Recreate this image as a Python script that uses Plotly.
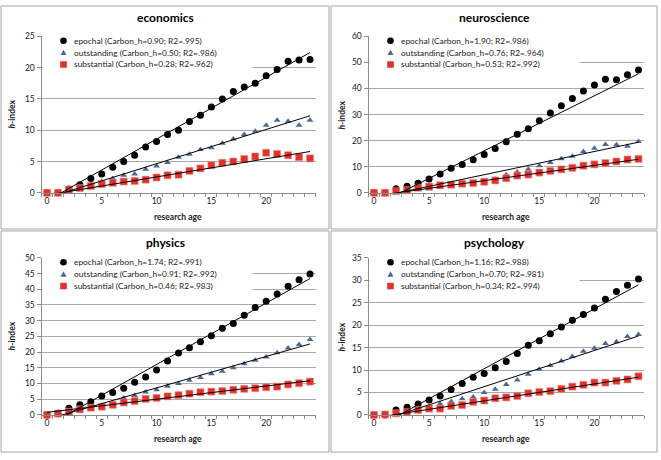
import plotly.graph_objects as go

W, H = 661, 460

# ---------------- data ----------------
AGE = list(range(25))
PANEL_NAMES = ["economics", "neuroscience", "physics", "psychology"]
SERIES_NAMES = ["epochal", "outstanding", "substantial"]

ECON_EPOCHAL = [0, 0, 0.6, 1.3, 2.3, 3.0, 4.1, 5.0, 6.0, 7.3, 8.2, 9.3, 10.0, 11.4, 12.4, 13.7, 15.0, 16.2, 16.9, 17.5, 18.7, 19.7, 21.0, 21.2, 21.3]
ECON_OUTSTANDING = [0, 0, 0.4, 0.9, 1.3, 1.8, 2.3, 2.8, 3.0, 3.75, 4.3, 4.85, 5.7, 6.15, 6.9, 7.2, 7.9, 8.6, 9.3, 9.85, 10.8, 11.6, 11.45, 10.8, 11.6]
ECON_SUBSTANTIAL = [0, 0, 0.5, 0.75, 1.1, 1.4, 1.6, 1.8, 1.9, 2.1, 2.45, 2.8, 2.9, 3.5, 3.9, 4.4, 4.8, 5.0, 5.4, 5.8, 6.4, 6.2, 6.0, 5.7, 5.5]

NEURO_EPOCHAL = [0, 0, 1.6, 2.5, 3.7, 5.3, 7.2, 9.4, 10.9, 12.7, 14.7, 17.0, 19.6, 22.5, 24.6, 27.6, 30.6, 33.4, 36.2, 39.0, 41.3, 43.5, 43.3, 45.3, 47.1]
NEURO_OUTSTANDING = [0, 0, 0.5, 0.8, 1.2, 1.5, 2.0, 2.4, 3.2, 3.8, 4.5, 5.2, 6.9, 8.0, 9.0, 10.4, 11.6, 13.1, 14.0, 15.8, 17.1, 18.5, 18.4, 17.9, 19.7]
NEURO_SUBSTANTIAL = [0, 0, 0.6, 1.0, 2.0, 2.4, 2.9, 3.1, 3.5, 3.75, 4.25, 4.75, 5.6, 6.6, 7.0, 7.75, 8.4, 9.0, 9.6, 10.4, 10.9, 11.4, 12.0, 12.75, 13.0]

PHYS_EPOCHAL = [0, 0.5, 2.1, 3.2, 4.2, 6.0, 7.1, 8.5, 10.4, 12.1, 14.3, 17.2, 19.7, 21.4, 23.3, 25.2, 27.6, 29.1, 31.7, 34.2, 36.2, 38.5, 41.0, 43.0, 44.9]
PHYS_OUTSTANDING = [0, 0.4, 1.0, 1.8, 2.4, 3.0, 3.6, 5.4, 6.2, 7.3, 8.0, 9.1, 10.0, 11.0, 11.9, 13.1, 13.9, 15.0, 16.3, 17.4, 18.4, 19.8, 21.3, 22.4, 24.0]
PHYS_SUBSTANTIAL = [0, 0.4, 1.0, 1.75, 2.3, 2.6, 3.2, 3.95, 4.4, 5.1, 5.4, 5.9, 6.3, 6.75, 7.2, 7.4, 7.6, 8.0, 8.3, 8.5, 8.8, 9.0, 9.7, 10.1, 10.6]

PSYCH_EPOCHAL = [0, 0, 1.1, 1.7, 2.4, 3.3, 4.2, 5.65, 7.0, 8.4, 9.2, 10.5, 11.9, 13.7, 15.5, 16.5, 18.1, 19.6, 21.1, 22.4, 23.8, 25.8, 27.5, 28.9, 30.3]
PSYCH_OUTSTANDING = [0, 0, 0.3, 0.7, 1.1, 1.5, 2.5, 3.0, 3.6, 4.0, 5.0, 5.7, 6.8, 7.8, 9.05, 10.2, 11.0, 12.0, 13.0, 14.2, 14.85, 15.9, 16.3, 17.5, 17.9]
PSYCH_SUBSTANTIAL = [0, 0.1, 0.35, 0.6, 1.1, 1.4, 1.4, 2.0, 2.2, 2.9, 3.2, 3.7, 3.9, 4.2, 4.8, 5.1, 5.3, 5.8, 6.3, 6.7, 7.2, 7.2, 7.6, 7.9, 8.6]

# legend values (Carbon_h, R2) per panel, per series
ECON_CARBON = [0.90, 0.50, 0.28]
ECON_R2 = [".995", ".986", ".962"]
NEURO_CARBON = [1.90, 0.76, 0.53]
NEURO_R2 = [".986", ".964", ".992"]
PHYS_CARBON = [1.74, 0.91, 0.46]
PHYS_R2 = [".991", ".992", ".983"]
PSYCH_CARBON = [1.16, 0.70, 0.34]
PSYCH_R2 = [".988", ".981", ".994"]

# linear trend lines (slope, intercept)
ECON_TREND_SLOPE = [0.987, 0.547, 0.29]
ECON_TREND_INTERCEPT = [-1.28, -0.82, -0.36]
NEURO_TREND_SLOPE = [2.11, 0.89, 0.586]
NEURO_TREND_INTERCEPT = [-5.0, -1.96, -1.2]
PHYS_TREND_SLOPE = [1.955, 1.0, 0.42]
PHYS_TREND_INTERCEPT = [-3.5, -1.4, 0.8]
PSYCH_TREND_SLOPE = [1.336, 0.807, 0.377]
PSYCH_TREND_INTERCEPT = [-3.07, -1.78, -0.64]

Y_MAX = [25, 60, 50, 35]
Y_DTICK = [5, 10, 5, 5]
X_TICKS = [0, 5, 10, 15, 20]

PANELS = [
    (ECON_EPOCHAL, ECON_OUTSTANDING, ECON_SUBSTANTIAL, ECON_CARBON, ECON_R2, ECON_TREND_SLOPE, ECON_TREND_INTERCEPT),
    (NEURO_EPOCHAL, NEURO_OUTSTANDING, NEURO_SUBSTANTIAL, NEURO_CARBON, NEURO_R2, NEURO_TREND_SLOPE, NEURO_TREND_INTERCEPT),
    (PHYS_EPOCHAL, PHYS_OUTSTANDING, PHYS_SUBSTANTIAL, PHYS_CARBON, PHYS_R2, PHYS_TREND_SLOPE, PHYS_TREND_INTERCEPT),
    (PSYCH_EPOCHAL, PSYCH_OUTSTANDING, PSYCH_SUBSTANTIAL, PSYCH_CARBON, PSYCH_R2, PSYCH_TREND_SLOPE, PSYCH_TREND_INTERCEPT),
]

# ---------------- styles ----------------
FONT = "Lato, 'Open Sans', sans-serif"
COL_EPOCH = "#000000"
COL_OUT = "#4a6a96"
COL_SUB = "#e2302a"
GRID = "#a9a9a9"
AXIS = "#8c8c8c"
TXT = "#1a1a1a"

# plot-area geometry in pixels (left, right, top, bottom)
AREAS = [
    (41.5, 315.5, 32, 192),
    (368.5, 644.0, 32, 192),
    (41.5, 315.5, 258.5, 419),
    (368.5, 644.0, 258.5, 419),
]
PANEL_BOX = [(1, 329, 1, 229), (331, 657, 1, 229), (1, 329, 231, 457), (331, 657, 231, 457)]


def px(x):
    return x / W


def py(y):
    return 1 - y / H


fig = go.Figure()
layout = dict(
    width=W, height=H, margin=dict(l=0, r=0, t=0, b=0),
    paper_bgcolor="white", plot_bgcolor="white", showlegend=False,
    font=dict(family=FONT, size=8, color=TXT),
)
shapes = []
annotations = []

for i, (ep, ou, su, carbon, r2, tslope, tint) in enumerate(PANELS):
    n = "" if i == 0 else str(i + 1)
    xa, ya = "x" + n, "y" + n
    l, r, t, b = AREAS[i]
    layout["xaxis" + n] = dict(
        domain=[px(l), px(r)], anchor=ya, range=[-0.5, 24.5],
        tickmode="array", tickvals=X_TICKS, ticks="", showgrid=False,
        showline=True, linecolor=AXIS, linewidth=1, zeroline=False,
        tickfont=dict(size=8.5, color=TXT, family=FONT),
        minor=dict(tick0=-0.5, dtick=1, ticks="outside", ticklen=3,
                   tickcolor=AXIS, tickwidth=1, showgrid=False),
    )
    layout["yaxis" + n] = dict(
        domain=[py(b), py(t)], anchor=xa, range=[0, Y_MAX[i]], dtick=Y_DTICK[i],
        tick0=0, showgrid=True, gridcolor=GRID, gridwidth=1,
        showline=True, linecolor=AXIS, linewidth=1, zeroline=False,
        ticks="outside", ticklen=4, tickcolor=AXIS,
        tickfont=dict(size=8.5, color=TXT, family=FONT),
    )

    # data markers
    fig.add_trace(go.Scatter(x=AGE, y=ep, mode="markers", xaxis=xa, yaxis=ya,
                             cliponaxis=False, name="epochal",
                             marker=dict(symbol="circle", size=7, color=COL_EPOCH)))
    fig.add_trace(go.Scatter(x=AGE, y=ou, mode="markers", xaxis=xa, yaxis=ya,
                             cliponaxis=False, name="outstanding",
                             marker=dict(symbol="triangle-up", size=6, color=COL_OUT)))
    fig.add_trace(go.Scatter(x=AGE, y=su, mode="markers", xaxis=xa, yaxis=ya,
                             cliponaxis=False, name="substantial",
                             marker=dict(symbol="square", size=7, color=COL_SUB,
                                         line=dict(width=0.6, color="#f08a85"))))
    # trend lines
    for k in range(3):
        xs = [AGE[0], AGE[-1]]
        ys = [tslope[k] * x + tint[k] for x in xs]
        fig.add_trace(go.Scatter(x=xs, y=ys, mode="lines", xaxis=xa, yaxis=ya,
                                 line=dict(color="#000000", width=1), hoverinfo="skip"))

    # panel frame
    bl, br, bt, bb = PANEL_BOX[i]
    shapes.append(dict(type="rect", xref="paper", yref="paper",
                       x0=px(bl), x1=px(br), y0=py(bb), y1=py(bt),
                       line=dict(color="#a6a6a6", width=1), fillcolor="rgba(0,0,0,0)",
                       layer="above"))

    # legend background (covers grid lines) + hide top grid line
    shapes.append(dict(type="rect", xref="paper", yref="paper",
                       x0=px(l + 1), x1=px(l + 211), y0=py(t + 40), y1=py(t - 3),
                       line=dict(width=0), fillcolor="white", layer="above"))
    shapes.append(dict(type="rect", xref="paper", yref="paper",
                       x0=px(l + 1), x1=px(r + 2), y0=py(t + 1), y1=py(t - 1),
                       line=dict(width=0), fillcolor="white", layer="above"))

    # legend entries
    rows = [t + 4.5, t + 16.7, t + 28.8]
    mx = l + 22
    for k, sname in enumerate(SERIES_NAMES):
        yy = rows[k]
        if k == 0:
            shapes.append(dict(type="circle", xref="paper", yref="paper",
                               x0=px(mx - 3.3), x1=px(mx + 3.3), y0=py(yy + 3.3), y1=py(yy - 3.3),
                               line=dict(width=0), fillcolor=COL_EPOCH, layer="above"))
        elif k == 1:
            path = "M {} {} L {} {} L {} {} Z".format(px(mx - 3), py(yy + 2.5), px(mx + 3), py(yy + 2.5),
                                                      px(mx), py(yy - 3))
            shapes.append(dict(type="path", xref="paper", yref="paper", path=path,
                               line=dict(width=0), fillcolor=COL_OUT, layer="above"))
        else:
            shapes.append(dict(type="rect", xref="paper", yref="paper",
                               x0=px(mx - 3.3), x1=px(mx + 3.3), y0=py(yy + 3.3), y1=py(yy - 3.3),
                               line=dict(width=0), fillcolor=COL_SUB, layer="above"))
        label = "{} (Carbon_h={:.2f}; R2={})".format(sname, carbon[k], r2[k])
        annotations.append(dict(xref="paper", yref="paper", x=px(l + 30), y=py(yy),
                                xanchor="left", yanchor="middle", showarrow=False,
                                text=label, font=dict(size=8.4, color=TXT, family=FONT)))

    # panel title
    cx = (bl + br) / 2
    annotations.append(dict(xref="paper", yref="paper", x=px(cx), y=py(bt + 12),
                            xanchor="center", yanchor="middle", showarrow=False,
                            text="<b>" + PANEL_NAMES[i] + "</b>",
                            font=dict(size=12, color="#000000", family=FONT)))
    # x axis title
    annotations.append(dict(xref="paper", yref="paper", x=px((l + r) / 2), y=py(b + 25),
                            xanchor="center", yanchor="middle", showarrow=False,
                            text="<b>research age</b>",
                            font=dict(size=8.5, color=TXT, family=FONT)))
    # y axis title
    annotations.append(dict(xref="paper", yref="paper", x=px(bl + 11), y=py((t + b) / 2),
                            xanchor="center", yanchor="middle", showarrow=False,
                            textangle=-90, text="<b><i>h</i>-index</b>",
                            font=dict(size=8.5, color=TXT, family=FONT)))

layout["shapes"] = shapes
layout["annotations"] = annotations
fig.update_layout(**layout)
fig.write_html("out.html", config={"displayModeBar": False},
               post_script="document.body.style.margin='0';")
